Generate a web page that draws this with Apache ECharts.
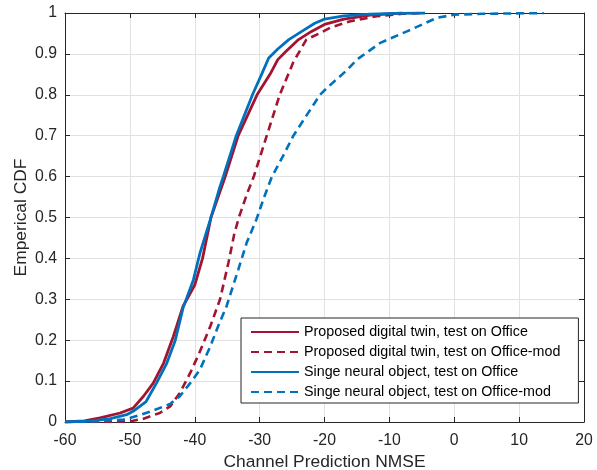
<!DOCTYPE html>
<html>
<head>
<meta charset="utf-8">
<script src="https://cdn.jsdelivr.net/npm/echarts@6/dist/echarts.min.js"></script>
<style>
  html, body { margin: 0; padding: 0; background: #fff; }
  #chart { width: 597px; height: 470px; }
</style>
</head>
<body>
<div id="chart"></div>
<script>
// Empirical CDFs of channel prediction NMSE (dB), as [NMSE, CDF] pairs
const twinOffice = [
  [-60, 0], [-57, 0.003], [-54.6, 0.01], [-51.5, 0.022], [-49.5, 0.034], [-47.9, 0.063],
  [-46.4, 0.095], [-44.8, 0.144], [-43.3, 0.209], [-41.8, 0.283], [-40, 0.335],
  [-38.8, 0.4], [-37.5, 0.5], [-35.3, 0.6], [-33.3, 0.7], [-30.4, 0.8], [-28.4, 0.85],
  [-27.2, 0.886], [-26, 0.905], [-24, 0.935], [-22, 0.955], [-20, 0.972], [-17, 0.985],
  [-13, 0.995], [-8, 1.0]
];
const twinOfficeMod = [
  [-60, 0], [-52, 0], [-49.5, 0.003], [-47.9, 0.008], [-45.4, 0.022], [-43.8, 0.038],
  [-42.3, 0.071], [-40.7, 0.12], [-39.4, 0.165], [-37.6, 0.234], [-36.1, 0.3],
  [-34.8, 0.39], [-33.9, 0.46], [-33.2, 0.5], [-31.9, 0.56], [-30.9, 0.6], [-28.9, 0.7],
  [-26.9, 0.8], [-24.8, 0.88], [-22.8, 0.935], [-20.7, 0.951], [-19, 0.965], [-16, 0.98],
  [-12, 0.992], [-8, 0.998], [-5, 1.0]
];
const singleOffice = [
  [-60, 0], [-56, 0.002], [-53, 0.008], [-50.5, 0.018], [-49.5, 0.026], [-47.5, 0.05],
  [-45.9, 0.095], [-44.3, 0.144], [-43, 0.2], [-41.8, 0.279], [-40.2, 0.348],
  [-39.2, 0.413], [-37.6, 0.495], [-36.1, 0.576], [-35.6, 0.6], [-33.6, 0.7],
  [-31.1, 0.8], [-29.7, 0.85], [-28.6, 0.89], [-27.2, 0.912], [-25.5, 0.935],
  [-23.5, 0.955], [-21.5, 0.975], [-20, 0.985], [-17, 0.993], [-13, 0.997],
  [-9, 0.999], [-4.5, 1.0]
];
const singleOfficeMod = [
  [-60, 0], [-55, 0.002], [-51, 0.006], [-49.5, 0.012], [-46.9, 0.025], [-43.8, 0.044],
  [-42.3, 0.063], [-40.7, 0.095], [-39.2, 0.128], [-37.6, 0.185], [-36.4, 0.234],
  [-35.1, 0.283], [-33.3, 0.372], [-32, 0.438], [-30.5, 0.495], [-29.3, 0.55],
  [-28.1, 0.6], [-26.4, 0.65], [-24.8, 0.7], [-20.7, 0.8], [-19.6, 0.817], [-16.5, 0.861],
  [-15, 0.886], [-11.4, 0.927], [-7.3, 0.955], [-2.7, 0.988], [0, 0.996], [4.5, 0.998],
  [13.8, 1.0]
];

const seriesNames = [
  'Proposed digital twin, test on Office',
  'Proposed digital twin, test on Office-mod',
  'Singe neural object, test on Office',
  'Singe neural object, test on Office-mod'
];

// Axis ticks
const xTicks = [-60, -50, -40, -30, -20, -10, 0, 10, 20];
const yTicks = [0, 0.1, 0.2, 0.3, 0.4, 0.5, 0.6, 0.7, 0.8, 0.9, 1];
const yTickLabels = ['0', '0.1', '0.2', '0.3', '0.4', '0.5', '0.6', '0.7', '0.8', '0.9', '1'];

const RED = '#A2142F';
const BLUE = '#0072BD';
const INK = '#262626';
const FONT = 'Liberation Sans, Arial, sans-serif';

const xStep = xTicks[1] - xTicks[0];
const yStep = yTicks[1] - yTicks[0];

function yLabel(v) {
  const i = Math.round(v / yStep);
  return yTickLabels[i] !== undefined ? yTickLabels[i] : '';
}

const boxAxisLine = { show: true, onZero: false, lineStyle: { color: INK, width: 1 } };
const innerTick = { show: true, inside: true, length: 5, lineStyle: { color: INK, width: 1 } };

function lineSeries(name, data, color, dashed, width) {
  return {
    name: name,
    type: 'line',
    data: data,
    symbol: 'none',
    showSymbol: false,
    smooth: false,
    animation: false,
    color: color,
    lineStyle: {
      color: color,
      width: width,
      type: dashed ? [8, 5] : 'solid',
      cap: 'butt'
    },
    z: 3
  };
}

const chart = echarts.init(document.getElementById('chart'), null, { renderer: 'canvas' });
chart.setOption({
  animation: false,
  backgroundColor: '#ffffff',
  grid: {
    left: 65, right: 13, top: 13, bottom: 48,
    containLabel: false,
    outerBoundsMode: 'none'
  },
  xAxis: [
    {
      type: 'value',
      min: xTicks[0], max: xTicks[xTicks.length - 1], interval: xStep,
      name: 'Channel Prediction NMSE',
      nameLocation: 'middle',
      nameGap: 32,
      nameTextStyle: { color: INK, fontSize: 17.4, fontFamily: FONT },
      axisLine: boxAxisLine,
      axisTick: innerTick,
      axisLabel: { color: INK, fontSize: 15.8, fontFamily: FONT, margin: 11 },
      splitLine: { show: true, lineStyle: { color: '#e1e1e1', width: 1 } }
    },
    {
      type: 'value', position: 'top',
      min: xTicks[0], max: xTicks[xTicks.length - 1], interval: xStep,
      axisLine: boxAxisLine, axisTick: innerTick,
      axisLabel: { show: false }, splitLine: { show: false }
    }
  ],
  yAxis: [
    {
      type: 'value',
      min: yTicks[0], max: yTicks[yTicks.length - 1], interval: yStep,
      name: 'Emperical CDF',
      nameLocation: 'middle',
      nameGap: 35,
      nameMoveOverlap: false,
      nameTextStyle: { color: INK, fontSize: 17.4, fontFamily: FONT },
      axisLine: boxAxisLine,
      axisTick: innerTick,
      axisLabel: { color: INK, fontSize: 15.8, fontFamily: FONT, margin: 8, formatter: yLabel },
      splitLine: { show: true, lineStyle: { color: '#e1e1e1', width: 1 } }
    },
    {
      type: 'value', position: 'right',
      min: yTicks[0], max: yTicks[yTicks.length - 1], interval: yStep,
      axisLine: boxAxisLine, axisTick: innerTick,
      axisLabel: { show: false }, splitLine: { show: false }
    }
  ],
  legend: {
    show: true,
    orient: 'vertical',
    left: 241,
    top: 318,
    padding: [7, 18, 4, 9],
    itemWidth: 48,
    itemHeight: 15,
    itemGap: 6,
    backgroundColor: '#ffffff',
    borderColor: INK,
    borderWidth: 1,
    borderRadius: 0,
    itemStyle: { opacity: 0 },
    textStyle: { color: '#000', fontSize: 14.3, fontFamily: FONT },
    data: seriesNames
  },
  series: [
    lineSeries(seriesNames[0], twinOffice, RED, false, 2.8),
    lineSeries(seriesNames[1], twinOfficeMod, RED, true, 2.6),
    lineSeries(seriesNames[2], singleOffice, BLUE, false, 2.8),
    lineSeries(seriesNames[3], singleOfficeMod, BLUE, true, 2.6)
  ]
});
</script>
</body>
</html>
